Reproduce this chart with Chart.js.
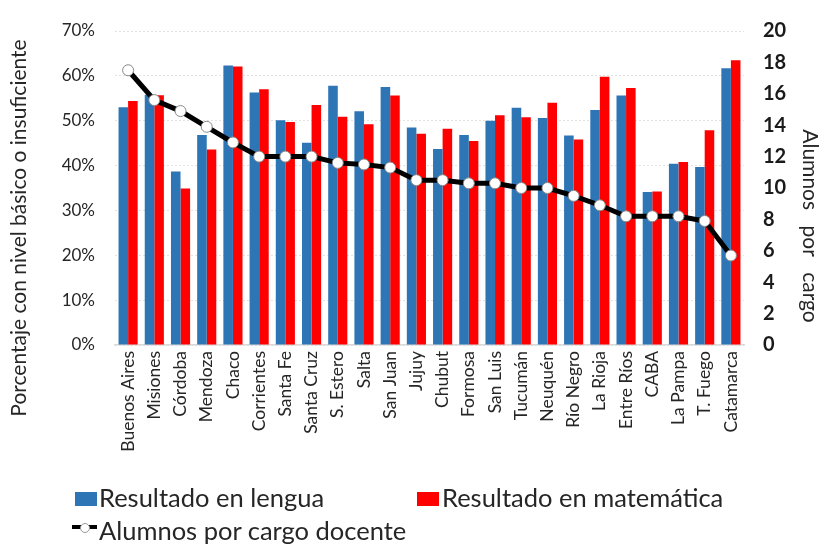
<!DOCTYPE html>
<html><head><meta charset="utf-8">
<script src="https://cdn.jsdelivr.net/npm/chart.js@4"></script>
<style>
html,body{margin:0;padding:0;background:#fff;}
#wrap{position:relative;width:826px;height:551px;}
canvas{position:absolute;left:0;top:0;}
.lg{position:absolute;font-family:Lato,"Open Sans",sans-serif;font-size:25.5px;color:#262626;white-space:nowrap;line-height:1;}
.box{position:absolute;}
</style></head>
<body><div id="wrap"><canvas id="c" width="826" height="551"></canvas>
<div class="box" style="left:75px;top:492px;width:22px;height:14px;background:#2E75B6"></div>
<div class="lg" style="left:99px;top:485px;">Resultado en lengua</div>
<div class="box" style="left:417px;top:492px;width:22px;height:14px;background:#FF0000"></div>
<div class="lg" style="left:442px;top:485px;">Resultado en matemática</div>
<div class="box" style="left:72px;top:525px;width:25px;height:4px;background:#000"></div>
<div class="box" style="left:80px;top:523px;width:8px;height:8px;border-radius:50%;background:#fff;border:0.5px solid #999"></div>
<div class="lg" style="left:99px;top:518px;">Alumnos por cargo docente</div>
</div>
<script>
const provincias = ["Buenos Aires","Misiones","Córdoba","Mendoza","Chaco","Corrientes","Santa Fe","Santa Cruz","S. Estero","Salta","San Juan","Jujuy","Chubut","Formosa","San Luis","Tucumán","Neuquén","Río Negro","La Rioja","Entre Ríos","CABA","La Pampa","T. Fuego","Catamarca"];
const lengua = [53.0,55.8,38.7,46.8,62.3,56.3,50.1,45.1,57.8,52.1,57.5,48.5,43.7,46.8,50.0,52.9,50.6,46.7,52.4,55.6,34.1,40.4,39.7,61.7];
const matematica = [54.4,55.7,34.9,43.6,62.1,57.0,49.7,53.5,50.9,49.2,55.6,47.1,48.2,45.5,51.2,50.8,54.0,45.8,59.8,57.3,34.2,40.8,47.9,63.5];
const alumnosPorCargo = [17.5,15.6,14.9,13.9,12.9,12.0,12.0,12.0,11.6,11.5,11.3,10.5,10.5,10.3,10.3,10.0,10.0,9.5,8.9,8.2,8.2,8.2,7.9,5.7];
const leftTicks = [0,10,20,30,40,50,60,70];
const rightTicks = [0,2,4,6,8,10,12,14,16,18,20];

const FONT = 'Lato, "Open Sans", sans-serif';

const titlesPlugin = {
  id:'axisTitles',
  afterDraw(chart){
    const ctx = chart.ctx;
    ctx.save();
    ctx.fillStyle = '#262626';
    ctx.font = '21px ' + FONT;
    ctx.textAlign = 'center'; ctx.textBaseline = 'middle';
    ctx.translate(19, 228);
    ctx.rotate(-Math.PI/2);
    ctx.fillText('Porcentaje con nivel básico o insuficiente', 0, 0);
    ctx.restore();
    ctx.save();
    ctx.fillStyle = '#262626';
    ctx.font = '21px ' + FONT;
    try { ctx.wordSpacing = '10px'; } catch(e) {}
    ctx.textAlign = 'center'; ctx.textBaseline = 'middle';
    ctx.translate(810, 226);
    ctx.rotate(Math.PI/2);
    ctx.fillText('Alumnos por cargo', 0, 0);
    ctx.restore();
  }
};

new Chart(document.getElementById('c'), {
  data: {
    labels: provincias,
    datasets: [
      {type:'line', label:'Alumnos por cargo docente', data: alumnosPorCargo, yAxisID:'y2', order:0,
       borderColor:'#000', borderWidth:5, pointRadius:5.5, pointBackgroundColor:'#fff', pointBorderColor:'#888', pointBorderWidth:1, tension:0},
      {type:'bar', label:'Resultado en lengua', data: lengua, yAxisID:'y', order:1, backgroundColor:'#2E75B6',
       barPercentage:1, categoryPercentage:0.73},
      {type:'bar', label:'Resultado en matemática', data: matematica, yAxisID:'y', order:1, backgroundColor:'#FF0000',
       barPercentage:1, categoryPercentage:0.73}
    ]
  },
  options: {
    responsive:false, animation:false,
    layout:{padding:{top:25,left:0,right:0,bottom:0}},
    plugins:{legend:{display:false}, tooltip:{enabled:false}},
    scales:{
      x:{
        grid:{display:false, drawTicks:false},
        border:{display:true, color:'#d9d9d9', width:1.5},
        ticks:{minRotation:90, maxRotation:90, autoSkip:false, padding:6, color:'#262626', font:{family:FONT, size:17.5}},
        afterFit(s){ s.height = 206; }
      },
      y:{
        position:'left', min:0, max:70,
        afterBuildTicks(s){ s.ticks = leftTicks.map(v=>({value:v})); },
        grid:{color:'#e2e2e2', drawTicks:false, lineWidth:1},
        border:{display:false, dash:[2,2]},
        ticks:{padding:20, color:'#262626', font:{family:FONT, size:17}, callback:v=>v+'%'},
        afterFit(s){ s.width = 115; }
      },
      y2:{
        position:'right', min:0, max:20,
        afterBuildTicks(s){ s.ticks = rightTicks.map(v=>({value:v})); },
        grid:{display:false, drawTicks:false},
        border:{display:false},
        ticks:{padding:19, color:'#1a1a1a', font:{family:FONT, size:20, weight:'bold'}},
        afterFit(s){ s.width = 82; }
      }
    }
  },
  plugins:[titlesPlugin]
});
</script></body></html>
